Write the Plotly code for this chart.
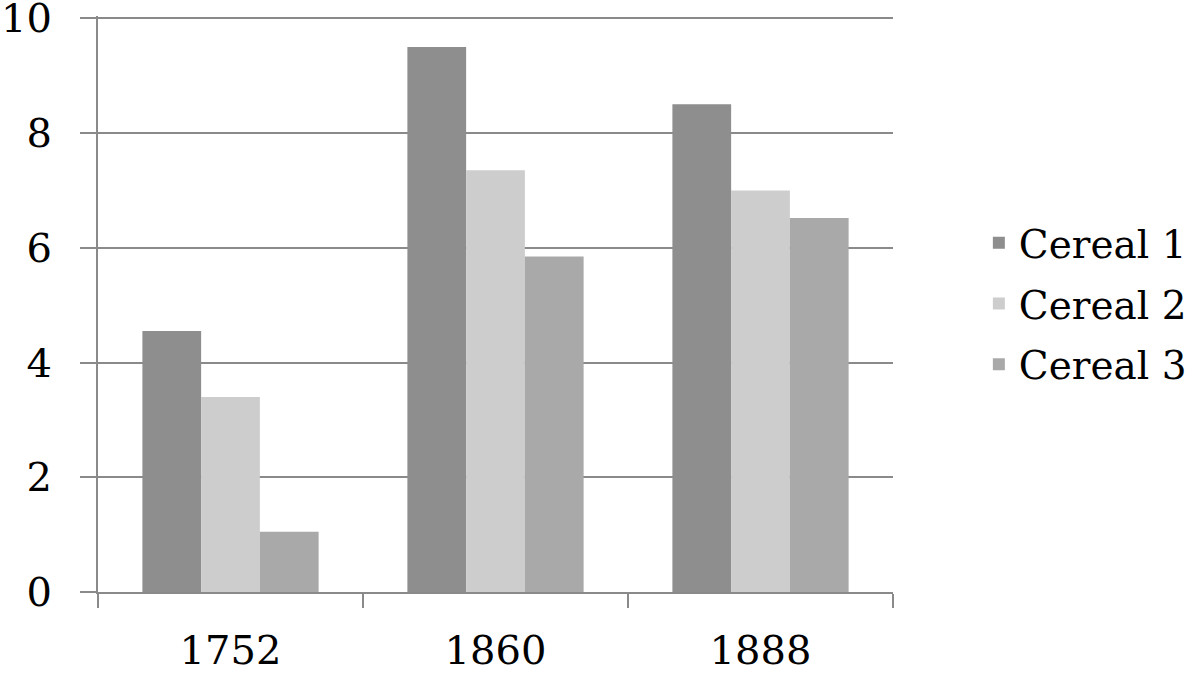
import plotly.graph_objects as go

# years on the x axis
years = ['1752', '1860', '1888']
# yields
cereal_1 = [4.55, 9.5, 8.5]
cereal_2 = [3.4, 7.35, 7.0]
cereal_3 = [1.05, 5.85, 6.52]

series = [('Cereal 1', cereal_1, '#8e8e8e'),
          ('Cereal 2', cereal_2, '#cdcdcd'),
          ('Cereal 3', cereal_3, '#a9a9a9')]

fig = go.Figure()
for name, vals, col in series:
  # separate legend groups so tracegroupgap spaces the legend entries
  fig.add_trace(go.Bar(x=years, y=vals, name=name, legendgroup=name,
                       marker=dict(color=col, line=dict(width=0))))

grey = '#8a8a8a'
fig.update_layout(
  width=1200, height=674,
  margin=dict(l=98, r=307, t=16, b=82, autoexpand=False),
  paper_bgcolor='white', plot_bgcolor='white',
  barmode='group', bargap=0.335, bargroupgap=0,
  font=dict(family='DejaVu Serif', size=40, color='black'),
  legend=dict(x=1.108, y=0.5, xanchor='left', yanchor='middle',
              font=dict(size=39), traceorder='grouped', tracegroupgap=7),
  xaxis=dict(showline=True, linecolor=grey, linewidth=2, automargin=False,
             ticks='outside', tickson='boundaries', ticklen=14,
             tickcolor=grey, tickwidth=2, showgrid=False,
             ticklabelstandoff=22, ticklabeloverflow='allow'),
  yaxis=dict(range=[0, 10.04], tickvals=[0, 2, 4, 6, 8, 10],
             showline=True, linecolor=grey, automargin=False,
             linewidth=2, ticks='outside', ticklen=16, tickcolor=grey,
             tickwidth=2, showgrid=True, gridcolor=grey, gridwidth=2,
             zeroline=False, ticklabelstandoff=20, ticklabeloverflow='allow'),
)

# drop the default 8px body margin so the figure sits at the page corner
fig.write_html("out.html", config={'displayModeBar': False},
               post_script="document.body.style.margin='0';")
